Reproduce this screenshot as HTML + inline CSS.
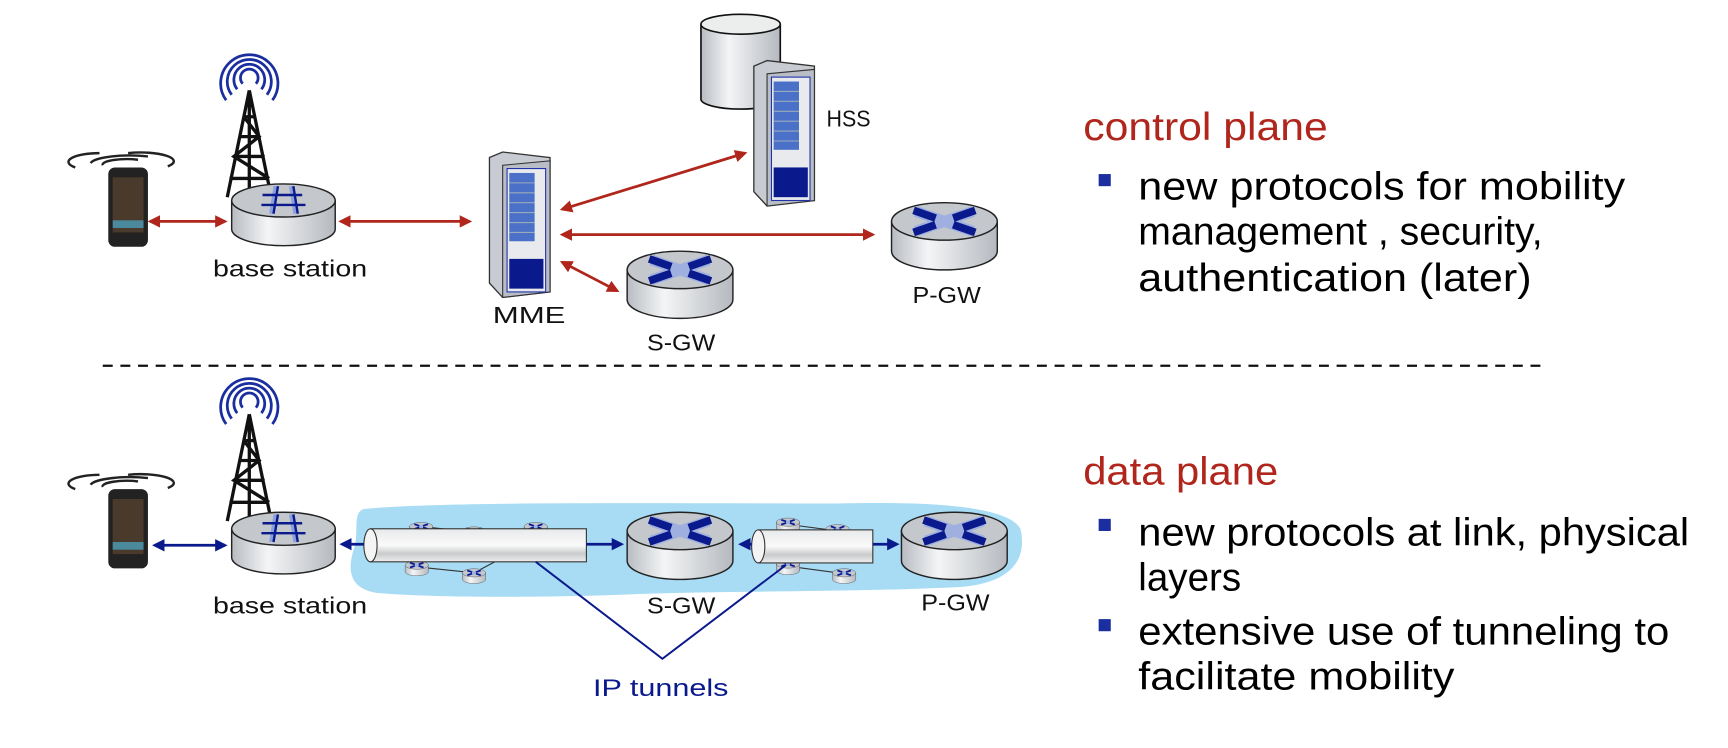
<!DOCTYPE html>
<html><head><meta charset="utf-8"><style>
html,body{margin:0;padding:0;background:#fff;width:1728px;height:748px;overflow:hidden}
svg{display:block}
text{font-family:"Liberation Sans",sans-serif}
</style></head><body>
<svg width="1728" height="748" viewBox="0 0 1568 679" xmlns="http://www.w3.org/2000/svg">
<defs>
<linearGradient id="rg" x1="0" x2="1"><stop offset="0" stop-color="#b8bcc2"/><stop offset="0.35" stop-color="#f4f5f6"/><stop offset="1" stop-color="#b5b9bf"/></linearGradient>
<linearGradient id="tg" x1="0" y1="0" x2="0" y2="1"><stop offset="0" stop-color="#e8e9ea"/><stop offset="0.5" stop-color="#fafafa"/><stop offset="0.75" stop-color="#c9cbcd"/><stop offset="1" stop-color="#eeeeee"/></linearGradient>
<marker id="ar" viewBox="0 0 10 10" refX="8" refY="5" markerWidth="4.5" markerHeight="4.5" orient="auto-start-reverse"><path d="M0,0L10,5L0,10z" fill="#b0261c"/></marker>
<marker id="ab" viewBox="0 0 10 10" refX="8" refY="5" markerWidth="4.5" markerHeight="4.5" orient="auto-start-reverse"><path d="M0,0L10,5L0,10z" fill="#0a1a8c"/></marker>
<g id="router">
<path d="M-48,0 V27 A48,17 0 0 0 48,27 V0z" fill="url(#rg)" stroke="#222" stroke-width="1.3"/>
<ellipse cx="0" cy="0" rx="48" ry="17" fill="#c4c8cd" stroke="#222" stroke-width="1.3"/>
<path d="M-26,-9 L26,9 M26,-9 L-26,9" stroke="#9fb0e0" stroke-width="10"/>
<path d="M-28,-10 L-8,-3 M8,3 L28,10 M28,-10 L8,-3 M-8,3 L-28,10" stroke="#0a1a8c" stroke-width="7"/>
</g>
<g id="bsr">
<path d="M-47,0 V26 A47,15 0 0 0 47,26 V0z" fill="url(#rg)" stroke="#222" stroke-width="1.3"/>
<ellipse cx="0" cy="0" rx="47" ry="15" fill="#c4c8cd" stroke="#222" stroke-width="1.3"/>
<path d="M-7,-13 L-11,12 M7,-13 L11,12" stroke="#8aa0dc" stroke-width="4"/>
<path d="M-5,-13 L-9,12 M9,-13 L13,12 M-19,-5 L17,-5 M-20,4 L20,4" stroke="#0a1a8c" stroke-width="2.2"/>
</g>
<g id="tower">
<g fill="none" stroke="#1a2ea0" stroke-width="2.5">
<path d="M-6,-8 A8,8 0 1 1 6,-8"/>
<path d="M-11,-3 A14,14 0 1 1 11,-3"/>
<path d="M-16,2 A20,20 0 1 1 16,2"/>
<path d="M-21,7 A26,26 0 1 1 21,7"/>
</g>
<path d="M0,-2 L-20,95 M0,-2 L20,95 M0,-2 V95 M-5,22 L5,22 M-9,40 L9,40 M-14,58 L14,58 M-18,78 L18,78 M-5,22 L9,40 L-14,58 L18,78" stroke="#111" stroke-width="3" fill="none"/>
</g>
<g id="phone">
<g fill="none" stroke="#222" stroke-width="2.2">
<path d="M-26,0 A36,8 0 0 1 26,-6"/><path d="M-15,2 A22,5 0 0 1 17,-3"/>
<path d="M8,-9 A30,8 0 0 1 44,3"/><path d="M-40,4 A28,8 0 0 1 -18,-9"/>
</g>
<rect x="-10" y="4" width="36" height="72" rx="6" fill="#222"/>
<rect x="-6" y="13" width="28" height="50" fill="#4a3a2c"/>
<rect x="-6" y="52" width="28" height="7" fill="#4a8a9c"/>
</g>
<g id="server">
<path d="M0,0 L12,-5 L55,0 L55,122 L12,127 L0,114z" fill="#c8ccd2" stroke="#333" stroke-width="1.2"/>
<path d="M12,7 L55,3 L55,122 L12,127z" fill="#b9bec6" stroke="#333" stroke-width="1"/>
<rect x="16" y="10" width="35" height="112" fill="#e8eaee" stroke="#2233aa" stroke-width="1"/>
<rect x="18" y="14" width="23" height="62" fill="#4a70c8"/>
<path d="M18,23H41M18,32H41M18,41H41M18,50H41M18,59H41M18,68H41" stroke="#9ab" stroke-width="1"/>
<rect x="18" y="92" width="31" height="27" fill="#0a1a8c"/>
</g>
</defs>

<!-- TOP -->
<use href="#phone" x="108" y="148"/>
<use href="#tower" x="226" y="84"/>
<use href="#bsr" x="257" y="182"/>
<text x="193" y="251" font-size="21" textLength="140" lengthAdjust="spacingAndGlyphs" fill="#111">base station</text>
<line x1="136" y1="201" x2="204" y2="201" stroke="#b0261c" stroke-width="2.5" marker-start="url(#ar)" marker-end="url(#ar)"/>
<line x1="309" y1="201" x2="426" y2="201" stroke="#b0261c" stroke-width="2.5" marker-start="url(#ar)" marker-end="url(#ar)"/>

<use href="#server" x="444" y="143"/>
<text x="447" y="293" font-size="21" textLength="66" lengthAdjust="spacingAndGlyphs" fill="#111">MME</text>

<path d="M636,22 V90 A36,9 0 0 0 708,90 V22" fill="url(#rg)" stroke="#111" stroke-width="1.5"/>
<ellipse cx="672" cy="22" rx="36" ry="9" fill="#eceded" stroke="#111" stroke-width="1.5"/>
<use href="#server" x="684" y="60"/>
<text x="750" y="115" font-size="21" textLength="40" lengthAdjust="spacingAndGlyphs" fill="#111">HSS</text>

<line x1="510" y1="190" x2="676" y2="139" stroke="#b0261c" stroke-width="2.5" marker-start="url(#ar)" marker-end="url(#ar)"/>
<line x1="510" y1="213" x2="792" y2="213" stroke="#b0261c" stroke-width="2.5" marker-start="url(#ar)" marker-end="url(#ar)"/>
<line x1="510" y1="238" x2="560" y2="264" stroke="#b0261c" stroke-width="2.5" marker-start="url(#ar)" marker-end="url(#ar)"/>

<use href="#router" x="617" y="245"/>
<text x="587" y="318" font-size="21" textLength="62" lengthAdjust="spacingAndGlyphs" fill="#111">S-GW</text>
<use href="#router" x="857" y="201"/>
<text x="828" y="275" font-size="21" textLength="62" lengthAdjust="spacingAndGlyphs" fill="#111">P-GW</text>

<line x1="93" y1="332" x2="1400" y2="332" stroke="#111" stroke-width="2" stroke-dasharray="9,7"/>

<!-- BOTTOM -->
<path d="M330,462 C400,455 600,457 760,457 C850,455 915,460 926,480 C933,510 915,530 870,533 C760,538 650,536 560,540 C470,543 380,542 340,538 C315,533 315,515 322,495 C325,480 320,465 330,462z" fill="#a8dcf5"/>
<use href="#phone" x="108" y="440"/>
<use href="#tower" x="226" y="378"/>
<use href="#bsr" x="257" y="480"/>
<text x="193" y="557" font-size="21" textLength="140" lengthAdjust="spacingAndGlyphs" fill="#111">base station</text>
<line x1="140" y1="495" x2="204" y2="495" stroke="#0a1a8c" stroke-width="2.5" marker-start="url(#ab)" marker-end="url(#ab)"/>

<g stroke="#333" stroke-width="1">
<line x1="382" y1="478" x2="430" y2="483"/><line x1="382" y1="515" x2="430" y2="520"/><line x1="430" y1="520" x2="460" y2="504"/>
<line x1="715" y1="476" x2="760" y2="482"/><line x1="715" y1="514" x2="760" y2="520"/>
</g>
<g transform="translate(382,478) scale(0.22)"><use href="#router"/></g>
<g transform="translate(430,482) scale(0.22)"><use href="#router"/></g>
<g transform="translate(486,478) scale(0.22)"><use href="#router"/></g>
<g transform="translate(378,513) scale(0.22)"><use href="#router"/></g>
<g transform="translate(430,520) scale(0.22)"><use href="#router"/></g>
<g transform="translate(715,474) scale(0.22)"><use href="#router"/></g>
<g transform="translate(760,480) scale(0.22)"><use href="#router"/></g>
<g transform="translate(715,512) scale(0.22)"><use href="#router"/></g>
<g transform="translate(766,520) scale(0.22)"><use href="#router"/></g>

<rect x="336" y="480" width="196" height="30" fill="url(#tg)" stroke="#333" stroke-width="1"/>
<ellipse cx="336" cy="495" rx="6" ry="15" fill="#f4f4f4" stroke="#333" stroke-width="1"/>
<rect x="688" y="481" width="104" height="30" fill="url(#tg)" stroke="#333" stroke-width="1"/>
<ellipse cx="688" cy="496" rx="6" ry="15" fill="#f4f4f4" stroke="#333" stroke-width="1"/>

<line x1="330" y1="494" x2="310" y2="494" stroke="#0a1a8c" stroke-width="2.5" marker-end="url(#ab)"/>
<line x1="532" y1="494" x2="564" y2="494" stroke="#0a1a8c" stroke-width="2.5" marker-end="url(#ab)"/>
<line x1="682" y1="494" x2="672" y2="494" stroke="#0a1a8c" stroke-width="2.5" marker-end="url(#ab)"/>
<line x1="792" y1="494" x2="814" y2="494" stroke="#0a1a8c" stroke-width="2.5" marker-end="url(#ab)"/>

<use href="#router" x="617" y="482"/>
<text x="587" y="557" font-size="21" textLength="62" lengthAdjust="spacingAndGlyphs" fill="#111">S-GW</text>
<use href="#router" x="866" y="482"/>
<text x="836" y="554" font-size="21" textLength="62" lengthAdjust="spacingAndGlyphs" fill="#111">P-GW</text>

<polyline points="486,510 601,598 713,513" fill="none" stroke="#0a1a8c" stroke-width="1.8"/>
<text x="538" y="632" font-size="22" textLength="123" lengthAdjust="spacingAndGlyphs" fill="#0a1a8c">IP tunnels</text>

<g font-size="35" fill="#000">
<text x="983" y="127" fill="#b0261c" textLength="222" lengthAdjust="spacingAndGlyphs">control plane</text>
<rect x="997" y="158" width="11" height="11" fill="#1a2ea0"/>
<text x="1033" y="181" textLength="442" lengthAdjust="spacingAndGlyphs">new protocols for mobility</text>
<text x="1033" y="222" textLength="367" lengthAdjust="spacingAndGlyphs">management , security,</text>
<text x="1033" y="264" textLength="357" lengthAdjust="spacingAndGlyphs">authentication (later)</text>
<text x="983" y="440" fill="#b0261c" textLength="177" lengthAdjust="spacingAndGlyphs">data plane</text>
<rect x="997" y="471" width="11" height="11" fill="#1a2ea0"/>
<text x="1033" y="495" textLength="500" lengthAdjust="spacingAndGlyphs">new protocols at link, physical</text>
<text x="1033" y="536">layers</text>
<rect x="997" y="562" width="11" height="11" fill="#1a2ea0"/>
<text x="1033" y="585" textLength="482" lengthAdjust="spacingAndGlyphs">extensive use of tunneling to</text>
<text x="1033" y="626" textLength="287" lengthAdjust="spacingAndGlyphs">facilitate mobility</text>
</g>
</svg>
</body></html>
